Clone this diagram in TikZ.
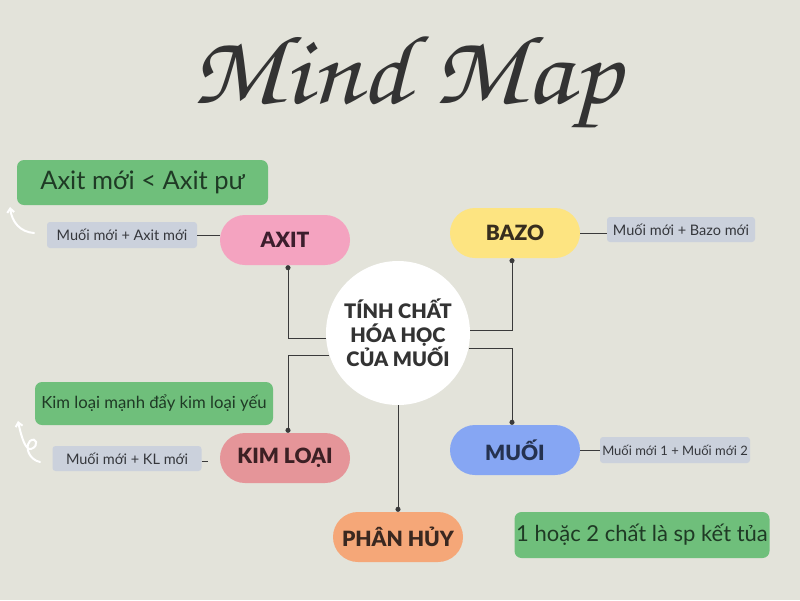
\documentclass[tikz,border=0pt]{standalone}
\usepackage{fontspec}
\setmainfont{Lato}
\newfontfamily\titlefont{TeX Gyre Chorus}
\IfFontExistsTF{Lato Black}{\newfontfamily\heavyfont{Lato Black}}{\newfontfamily\heavyfont{Lato}[UprightFont=* Bold]}
\usetikzlibrary{arrows.meta}
\definecolor{bg}{HTML}{E3E3DA}
\definecolor{greenbox}{HTML}{6FBF7B}
\definecolor{greentxt}{HTML}{1F3A25}
\definecolor{graybox}{HTML}{CBD1DC}
\definecolor{graytxt}{HTML}{35373C}
\definecolor{pinkA}{HTML}{F4A3C0}
\definecolor{yellowB}{HTML}{FDE481}
\definecolor{blueM}{HTML}{86A6F3}
\definecolor{salmonK}{HTML}{E59599}
\definecolor{orangeP}{HTML}{F5A778}
\definecolor{darktxt}{HTML}{333333}
\definecolor{linec}{HTML}{3A3A3A}
\begin{document}
\begin{tikzpicture}[x=1pt,y=-1pt,
  pill/.style={rounded corners=25pt, minimum width=130pt, minimum height=50pt, inner sep=0pt, font=\heavyfont\fontsize{21}{21}\selectfont},
  greenlbl/.style={fill=greenbox, rounded corners=7pt, inner sep=0pt, text=greentxt},
  graylbl/.style={fill=graybox, rounded corners=3pt, inner sep=0pt, minimum height=26pt, text=graytxt, font=\fontsize{14.5}{14.5}\selectfont},
  conn/.style={draw=linec, line width=0.9pt},
  dotstart/.style={{Circle[length=5pt]}-},
  whitearrow/.style={draw=white, line width=2pt, line cap=round, -{Straight Barb[length=4pt,width=7pt]}}
]
\path[fill=bg] (0,0) rectangle (800,600);
\useasboundingbox (0,0) rectangle (800,600);

% title
\node[font=\titlefont\fontsize{88}{88}\selectfont, text=darktxt] (title) at (406,82) {\scalebox{1.25}[1.12]{Mind Map}};

% central circle
\node[circle, fill=white, minimum size=144pt, inner sep=0pt, align=center, text=darktxt,
      font=\heavyfont\fontsize{20}{24}\selectfont] (center) at (398,333) {TÍNH CHẤT\\HÓA HỌC\\CỦA MUỐI};

% main nodes
\node[pill, fill=pinkA, text={rgb,255:red,60;green,30;blue,45}] (axit) at (285,240) {AXIT};
\node[pill, fill=yellowB, text={rgb,255:red,55;green,45;blue,30}] (bazo) at (515,233) {BAZO};
\node[pill, fill=blueM, text={rgb,255:red,37;green,50;blue,80}] (muoi) at (515,450) {MUỐI};
\node[pill, fill=salmonK, text={rgb,255:red,60;green,32;blue,36}] (kim) at (285,458) {KIM LOẠI};
\node[pill, fill=orangeP, text={rgb,255:red,58;green,40;blue,32}] (phan) at (398,537) {PHÂN HỦY};

% gray labels
\node[graylbl, minimum width=150pt] (lab1) at (122,235) {Muối mới + Axit mới};
\node[graylbl, minimum width=148pt, minimum height=25pt] (lab2) at (681,229.5) {Muối mới + Bazo mới};
\node[graylbl, minimum width=150pt, font=\fontsize{13}{13}\selectfont] (lab3) at (675,450) {Muối mới 1 + Muối mới 2};
\node[graylbl, minimum width=149pt, minimum height=25pt] (lab4) at (127,458.5) {Muối mới + KL mới};

% green labels
\node[greenlbl, minimum width=251pt, minimum height=45pt, font=\fontsize{25.5}{25.5}\selectfont] (g1) at (142.5,182.5) {Axit mới < Axit pư};
\node[greenlbl, minimum width=238pt, minimum height=43pt, font=\fontsize{16.7}{16.7}\selectfont] (g2) at (154,403.5) {Kim loại mạnh đẩy kim loại yếu};
\node[greenlbl, minimum width=255pt, minimum height=46pt, font=\fontsize{22}{22}\selectfont] (g3) at (642,535) {1 hoặc 2 chất là sp kết tủa};

% connectors to center
\draw[conn, dotstart] ([xshift=3pt]axit.south) |- (center.184);
\draw[conn, dotstart] ([xshift=3pt]kim.north) |- (center.198);
\draw[conn, dotstart] ([xshift=-3pt]bazo.south) |- (center.2);
\draw[conn, dotstart] ([xshift=-3pt]muoi.north) |- (center.-12);
\draw[conn, dotstart] (phan.north) -- (center.south);

% side connectors
\draw[conn] (lab1.east) -- (lab1.east -| axit.west);
\draw[conn] (bazo.east) -- (bazo.east -| lab2.west);
\draw[conn] (muoi.east) -- (muoi.east -| lab3.west);
\coordinate (kle) at (208,461);
\draw[conn] (lab4.east |- kle) -- (kle);

% white hand-drawn arrows
\coordinate (a1s) at (34,233);
\coordinate (a1e) at (10,207);
\draw[whitearrow] (a1s) .. controls (20,232) and (12,222) .. (a1e);
\coordinate (a2s) at (40,462);
\coordinate (a2e) at (18,421);
\draw[whitearrow] (a2s) .. controls (30,460) and (24,448) .. (30,441) .. controls (36,436) and (40,446) .. (31,449) .. controls (26,450) and (22,440) .. (a2e);
\end{tikzpicture}
\end{document}
